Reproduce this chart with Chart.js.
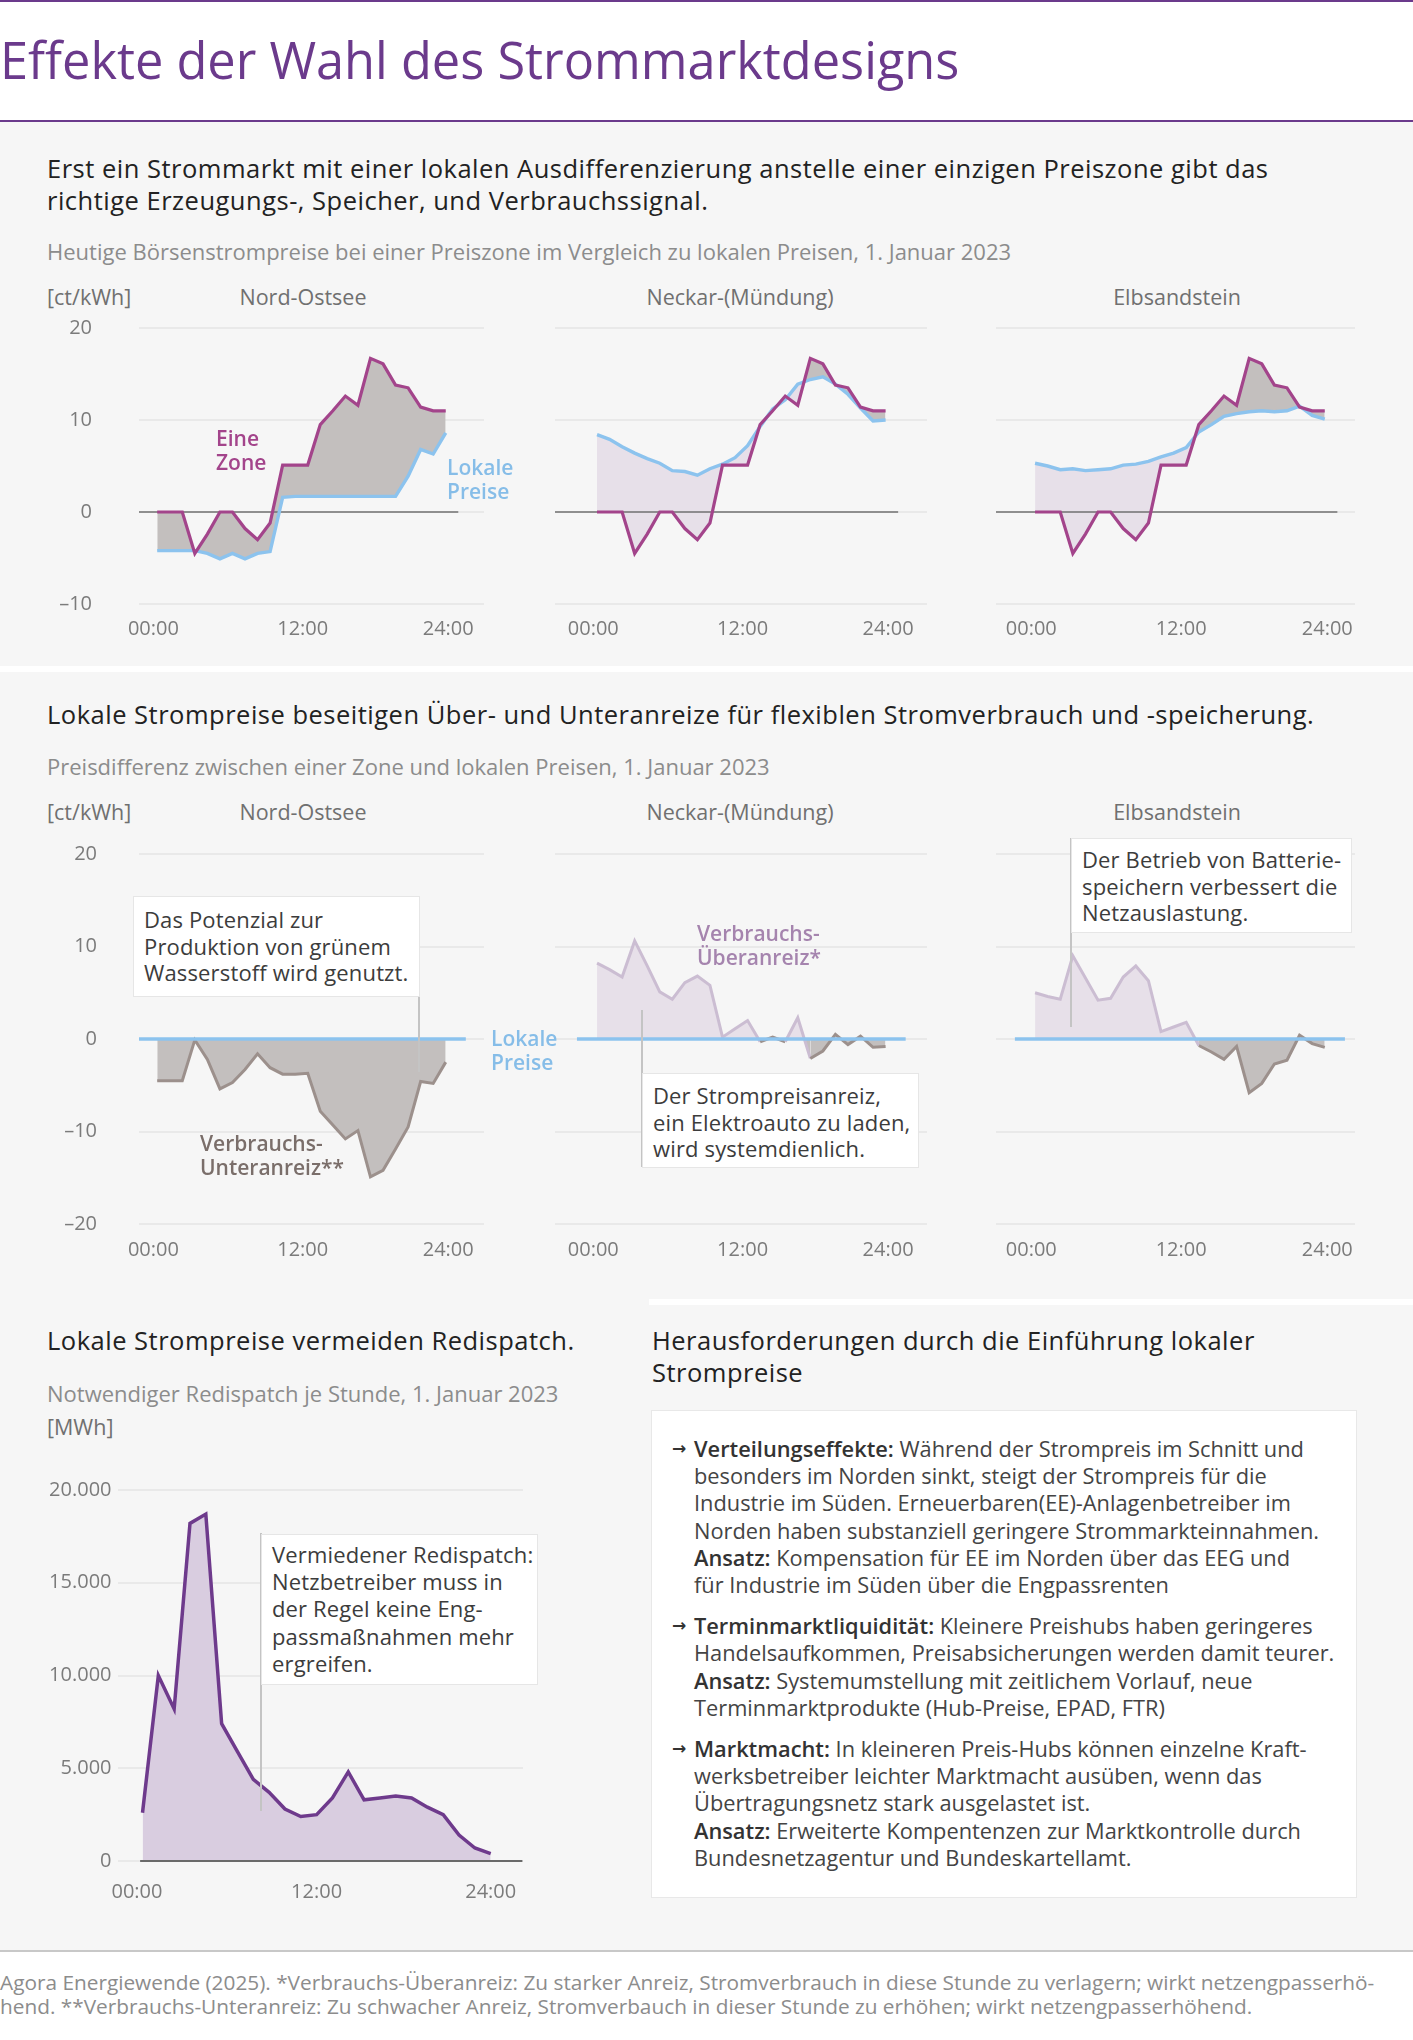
<!DOCTYPE html>
<html lang="de">
<head>
<meta charset="utf-8">
<title>Effekte der Wahl des Strommarktdesigns</title>
<script src="https://cdn.jsdelivr.net/npm/chart.js@4.4.1/dist/chart.umd.min.js"></script>
<style>
  body { margin: 0; width: 1413px; height: 2040px; position: relative; background: #fff;
         font-family: 'Open Sans', sans-serif; overflow: hidden; }
  .a { position: absolute; white-space: nowrap; }
  .bg { position: absolute; background: #f6f6f6; }
  .white { position: absolute; background: #fff; }
  .head { font-size: 25.5px; letter-spacing: 0.5px; line-height: 32px; color: #222; }
  .sub { font-size: 22px; line-height: 28px; color: #8c8c8c; }
  .panel { font-size: 21.5px; line-height: 28px; color: #707070; }
  .note { background: #fff; border: 1px solid #e6e6e6; box-sizing: border-box;
          font-size: 22px; letter-spacing: 0.15px; line-height: 26.7px; color: #3c3c3c; padding-left: 10px; }
  .stem { position: absolute; width: 2px; background: #c4c4c4; }
  .lbl { font-size: 21px; line-height: 24px; font-weight: 600; }
  canvas { position: absolute; }
  .bul { font-size: 21.8px; line-height: 27.2px; color: #444; position: relative; padding-left: 42px; margin-bottom: 14px; }
  .bul b { font-weight: 600; color: #333; }
  .bul .arr { position: absolute; left: 20px; top: 0; font-family: 'DejaVu Sans', sans-serif; font-weight: 700;
              font-size: 17px; color: #333; }
</style>
</head>
<body>

<!-- Hintergrund -->
<div class="a" style="left:0;top:0;width:1413px;height:2px;background:#6b3a8c"></div>
<div class="a" style="left:0;top:120px;width:1413px;height:2px;background:#6b3a8c"></div>
<div class="bg" style="left:0;top:122px;width:1413px;height:1828px"></div>
<div class="white" style="left:0;top:666px;width:1413px;height:6px"></div>
<div class="white" style="left:649px;top:1299px;width:764px;height:6px"></div>
<div class="a" style="left:0;top:1950px;width:1413px;height:2px;background:#c8c8c8"></div>

<div class="a" style="left:0;top:28px;font-size:50.5px;line-height:64px;color:#6b3a8c">Effekte der Wahl des Strommarktdesigns</div>

<!-- Abschnitt 1 -->
<div class="a head" style="left:47px;top:152px">Erst ein Strommarkt mit einer lokalen Ausdifferenzierung anstelle einer einzigen Preiszone gibt das<br>richtige Erzeugungs-, Speicher, und Verbrauchssignal.</div>
<div class="a sub" style="left:47px;top:237px">Heutige Börsenstrompreise bei einer Preiszone im Vergleich zu lokalen Preisen, 1. Januar 2023</div>
<div class="a panel" style="left:47px;top:283px">[ct/kWh]</div>
<div class="a panel" style="left:303px;top:283px;transform:translateX(-50%)">Nord-Ostsee</div>
<div class="a panel" style="left:740px;top:283px;transform:translateX(-50%)">Neckar-(Mündung)</div>
<div class="a panel" style="left:1177px;top:283px;transform:translateX(-50%)">Elbsandstein</div>

<canvas id="p1" width="444" height="336" style="left:40px;top:318px"></canvas>
<canvas id="p2" width="372" height="336" style="left:555px;top:318px"></canvas>
<canvas id="p3" width="359" height="336" style="left:996px;top:318px"></canvas>

<div class="a lbl" style="left:216px;top:426px;color:#a3448b">Eine<br>Zone</div>
<div class="a lbl" style="left:447px;top:455px;color:#86bde8">Lokale<br>Preise</div>

<!-- Abschnitt 2 -->
<div class="a head" style="left:47px;top:698px">Lokale Strompreise beseitigen Über- und Unteranreize für flexiblen Stromverbrauch und -speicherung.</div>
<div class="a sub" style="left:47px;top:752px">Preisdifferenz zwischen einer Zone und lokalen Preisen, 1. Januar 2023</div>
<div class="a panel" style="left:47px;top:798px">[ct/kWh]</div>
<div class="a panel" style="left:303px;top:798px;transform:translateX(-50%)">Nord-Ostsee</div>
<div class="a panel" style="left:740px;top:798px;transform:translateX(-50%)">Neckar-(Mündung)</div>
<div class="a panel" style="left:1177px;top:798px;transform:translateX(-50%)">Elbsandstein</div>

<canvas id="d1" width="444" height="430" style="left:40px;top:844px"></canvas>
<canvas id="d2" width="372" height="430" style="left:555px;top:844px"></canvas>
<canvas id="d3" width="359" height="430" style="left:996px;top:844px"></canvas>

<div class="a lbl" style="left:200px;top:1131px;color:#7a6e6a">Verbrauchs-<br>Unteranreiz**</div>
<div class="a lbl" style="left:697px;top:921px;color:#a584ae">Verbrauchs-<br>Überanreiz*</div>
<div class="a lbl" style="left:491px;top:1026px;color:#86bde8">Lokale<br>Preise</div>

<div class="stem" style="left:418px;top:896px;height:176px"></div>
<div class="a note" style="left:133px;top:896px;width:287px;height:101px;padding-top:9px">Das Potenzial zur<br>Produktion von grünem<br>Wasserstoff wird genutzt.</div>
<div class="stem" style="left:641px;top:1010px;height:157px"></div>
<div class="a note" style="left:642px;top:1073px;width:277px;height:95px;padding-top:8px">Der Strompreisanreiz,<br>ein Elektroauto zu laden,<br>wird systemdienlich.</div>
<div class="stem" style="left:1070px;top:838px;height:189px"></div>
<div class="a note" style="left:1071px;top:838px;width:281px;height:95px;padding-top:7px">Der Betrieb von Batterie-<br>speichern verbessert die<br>Netzauslastung.</div>

<!-- Abschnitt 3 -->
<div class="a head" style="left:47px;top:1324px">Lokale Strompreise vermeiden Redispatch.</div>
<div class="a sub" style="left:47px;top:1379px">Notwendiger Redispatch je Stunde, 1. Januar 2023</div>
<div class="a panel" style="left:47px;top:1413px">[MWh]</div>
<canvas id="r1" width="503" height="431" style="left:20px;top:1480px"></canvas>
<div class="stem" style="left:260px;top:1533px;height:278px"></div>
<div class="a note" style="left:261px;top:1534px;width:277px;height:151px;padding-top:6px;line-height:27.2px">Vermiedener Redispatch:<br>Netzbetreiber muss in<br>der Regel keine Eng-<br>passmaßnahmen mehr<br>ergreifen.</div>

<div class="a head" style="left:652px;top:1324px">Herausforderungen durch die Einführung lokaler<br>Strompreise</div>
<div class="a" style="left:651px;top:1410px;width:706px;height:488px;background:#fff;border:1px solid #e8e8e8;box-sizing:border-box;padding-top:24px;white-space:nowrap">
  <div class="bul"><span class="arr">→</span><b>Verteilungseffekte:</b> Während der Strompreis im Schnitt und<br>besonders im Norden sinkt, steigt der Strompreis für die<br>Industrie im Süden. Erneuerbaren(EE)-Anlagenbetreiber im<br>Norden haben substanziell geringere Strommarkteinnahmen.<br><b>Ansatz:</b> Kompensation für EE im Norden über das EEG und<br>für Industrie im Süden über die Engpassrenten</div>
  <div class="bul"><span class="arr">→</span><b>Terminmarktliquidität:</b> Kleinere Preishubs haben geringeres<br>Handelsaufkommen, Preisabsicherungen werden damit teurer.<br><b>Ansatz:</b> Systemumstellung mit zeitlichem Vorlauf, neue<br>Terminmarktprodukte (Hub-Preise, EPAD, FTR)</div>
  <div class="bul"><span class="arr">→</span><b>Marktmacht:</b> In kleineren Preis-Hubs können einzelne Kraft-<br>werksbetreiber leichter Marktmacht ausüben, wenn das<br>Übertragungsnetz stark ausgelastet ist.<br><b>Ansatz:</b> Erweiterte Kompentenzen zur Marktkontrolle durch<br>Bundesnetzagentur und Bundeskartellamt.</div>
</div>

<div class="a" style="left:0;top:1970px;font-size:20.8px;line-height:24px;color:#8c8c8c">Agora Energiewende (2025). *Verbrauchs-Überanreiz: Zu starker Anreiz, Stromverbrauch in diese Stunde zu verlagern; wirkt netzengpasserhö-<br>hend. **Verbrauchs-Unteranreiz: Zu schwacher Anreiz, Stromverbauch in dieser Stunde zu erhöhen; wirkt netzengpasserhöhend.</div>

<script>
// Stunden und Achsenbeschriftung
const hours = [0, 1, 2, 3, 4, 5, 6, 7, 8, 9, 10, 11, 12, 13, 14, 15, 16, 17, 18, 19, 20, 21, 22, 23];
const hourTicks = [-0.3, 11.6, 23.2];
const hourLabels = ["00:00", "12:00", "24:00"];

// Preise [ct/kWh]
const eineZone = [0, 0, 0, -4.5, -2.4, 0, 0, -1.8, -3.0, -1.2, 5.1, 5.1, 5.1, 9.5, 11.0, 12.6, 11.6, 16.7, 16.1, 13.8, 13.5, 11.4, 11.0, 11.0];
const lokalNordOstsee = [-4.2, -4.2, -4.2, -4.2, -4.5, -5.1, -4.5, -5.1, -4.5, -4.3, 1.6, 1.7, 1.7, 1.7, 1.7, 1.7, 1.7, 1.7, 1.7, 1.7, 3.9, 6.8, 6.3, 8.6];
const lokalNeckar = [8.4, 7.9, 7.1, 6.4, 5.8, 5.3, 4.5, 4.4, 4.0, 4.7, 5.2, 5.9, 7.2, 9.3, 11.2, 12.2, 13.9, 14.4, 14.7, 13.9, 12.8, 11.3, 9.9, 10.0];
const lokalElbsandstein = [5.3, 5.0, 4.6, 4.7, 4.5, 4.6, 4.7, 5.1, 5.2, 5.5, 6.0, 6.4, 7.0, 8.7, 9.5, 10.4, 10.7, 10.9, 11.0, 10.9, 11.0, 11.5, 10.5, 10.1];

// Preisdifferenz lokal minus eine Zone [ct/kWh]
const diffNordOstsee = [-4.5, -4.5, -4.5, -0.1, -2.2, -5.4, -4.7, -3.3, -1.6, -3.1, -3.8, -3.8, -3.7, -7.8, -9.3, -10.8, -9.9, -14.9, -14.2, -11.9, -9.5, -4.6, -4.8, -2.5];
const diffNeckar = [8.2, 7.5, 6.7, 10.6, 7.9, 5.1, 4.3, 6.1, 6.8, 5.8, 0.2, 1.1, 2.0, -0.3, 0.2, -0.3, 2.3, -2.1, -1.3, 0.5, -0.6, 0.3, -0.9, -0.8];
const diffElbsandstein = [5.0, 4.6, 4.3, 9.0, 6.6, 4.2, 4.4, 6.7, 7.9, 6.3, 0.8, 1.3, 1.8, -0.7, -1.4, -2.2, -0.8, -5.8, -4.8, -2.7, -2.3, 0.4, -0.5, -0.9];
const refHours = [-1.6, 24.6];
const refLokal = [0, 0];

// Redispatch [MWh]
const redispatchHours = [0, 1, 2, 3, 4, 5, 6, 7, 8, 9, 10, 11, 12, 13, 14, 15, 16, 17, 18, 19, 20, 21, 22];
const redispatch = [2600, 10000, 8200, 18200, 18700, 7400, 5900, 4400, 3700, 2800, 2400, 2500, 3400, 4800, 3300, 3400, 3500, 3400, 2900, 2500, 1400, 700, 400];
const redispatchTicks = [-0.35, 11, 22];

const ZONE = "#a3448b";
const BLUE = "#8cc3ee";
const GREY_FILL = "#c3bfbe";
const LILAC_FILL = "#e7e0e9";
const UP_LINE = "#cbbdd2";
const DOWN_LINE = "#9c908c";

Chart.defaults.font.family = "'Open Sans', sans-serif";
Chart.defaults.font.size = 20;
Chart.defaults.color = "#7b7b7b";

const pts = (xs, ys) => xs.map((x, i) => ({ x: x, y: ys[i] }));
const dash = (v) => (v < 0 ? "\u2013" + Math.abs(v) : String(v));
const thousands = (v) => String(v).replace(/\B(?=(\d{3})+(?!\d))/g, ".");

const zeroLine = {
  id: "zeroLine",
  draw(chart, o) {
    const { ctx, chartArea, scales } = chart;
    const y = scales.y.getPixelForValue(0);
    const x0 = o.from !== undefined ? scales.x.getPixelForValue(o.from) : chartArea.left;
    const x1 = scales.x.getPixelForValue(o.to);
    ctx.save();
    ctx.strokeStyle = o.color;
    ctx.lineWidth = o.width;
    ctx.beginPath();
    ctx.moveTo(x0, y);
    ctx.lineTo(x1, y);
    ctx.stroke();
    ctx.restore();
  },
  beforeDatasetsDraw(chart, args, o) {
    if (o.to !== undefined && !o.after) this.draw(chart, o);
  },
  afterDatasetsDraw(chart, args, o) {
    if (o.to !== undefined && o.after) this.draw(chart, o);
  },
};

function makeChart(id, datasets, o) {
  return new Chart(document.getElementById(id), {
    type: "line",
    data: { datasets: datasets },
    options: {
      responsive: false,
      animation: false,
      layout: { padding: { top: 10, left: 0, right: 0, bottom: 0 } },
      elements: { point: { radius: 0 }, line: { tension: 0 } },
      plugins: {
        legend: { display: false },
        tooltip: { enabled: false },
        filler: { drawTime: "beforeDatasetsDraw" },
        zeroLine: o.zero || {},
      },
      scales: {
        x: {
          type: "linear",
          min: o.xMin,
          max: o.xMax,
          grid: { display: false },
          border: { display: false },
          afterBuildTicks: (s) => {
            s.ticks = o.xTicks.map((v) => ({ value: v }));
          },
          afterFit: (s) => {
            s.height = 50;
            s.paddingLeft = 0;
            s.paddingRight = 0;
          },
          ticks: {
            autoSkip: false,
            maxRotation: 0,
            padding: o.xPad,
            callback: (v, i) => o.xLabels[i],
          },
        },
        y: {
          min: o.yMin,
          max: o.yMax,
          border: { display: false },
          grid: { color: "#e9e9e9", lineWidth: 2, drawTicks: false },
          afterFit: (s) => {
            s.width = o.yWidth;
            s.paddingTop = 0;
            s.paddingBottom = 0;
          },
          ticks: {
            display: o.yWidth > 0,
            stepSize: o.yStep,
            padding: o.yPad,
            callback: o.yFormat,
          },
        },
      },
    },
    plugins: [zeroLine],
  });
}

function priceSets(lokal) {
  return [
    {
      data: pts(hours, eineZone),
      borderColor: ZONE,
      borderWidth: 3.2,
      fill: { target: 1, above: GREY_FILL, below: LILAC_FILL },
    },
    { data: pts(hours, lokal), borderColor: BLUE, borderWidth: 3.4, fill: false },
  ];
}

function diffSets(diff) {
  return [
    { data: pts(refHours, refLokal), borderColor: BLUE, borderWidth: 3.5, fill: false },
    {
      data: pts(hours, diff),
      borderColor: UP_LINE,
      borderWidth: 3,
      fill: { target: { value: 0 }, above: LILAC_FILL, below: GREY_FILL },
      segment: {
        borderColor: (c) => (c.p0.parsed.y + c.p1.parsed.y >= 0 ? UP_LINE : DOWN_LINE),
      },
    },
  ];
}

const priceAxis = { yMin: -10, yMax: 20, yStep: 10, yFormat: dash, xTicks: hourTicks, xLabels: hourLabels, xPad: 5 };
const zeroGrey = { to: 24, color: "#707070", width: 1.5 };

makeChart("p1", priceSets(lokalNordOstsee), { ...priceAxis, xMin: -1.45, xMax: 26.05, yWidth: 99, yPad: 47, zero: zeroGrey });
makeChart("p2", priceSets(lokalNeckar), { ...priceAxis, xMin: -3.35, xMax: 26.3, yWidth: 0, yPad: 0, zero: zeroGrey });
makeChart("p3", priceSets(lokalElbsandstein), { ...priceAxis, xMin: -3.1, xMax: 25.4, yWidth: 0, yPad: 0, zero: zeroGrey });

const diffAxis = { yMin: -20, yMax: 20, yStep: 10, yFormat: dash, xTicks: hourTicks, xLabels: hourLabels, xPad: 6 };
makeChart("d1", diffSets(diffNordOstsee), { ...diffAxis, xMin: -1.45, xMax: 26.05, yWidth: 99, yPad: 42 });
makeChart("d2", diffSets(diffNeckar), { ...diffAxis, xMin: -3.35, xMax: 26.3, yWidth: 0, yPad: 0 });
makeChart("d3", diffSets(diffElbsandstein), { ...diffAxis, xMin: -3.1, xMax: 25.4, yWidth: 0, yPad: 0 });

makeChart(
  "r1",
  [
    {
      data: pts(redispatchHours, redispatch),
      borderColor: "#6e3a8c",
      borderWidth: 3.5,
      fill: { target: "origin", above: "#d9cde0" },
    },
  ],
  {
    yMin: 0, yMax: 20000, yStep: 5000, yFormat: thousands,
    xMin: -1.58, xMax: 24.04, xTicks: redispatchTicks, xLabels: hourLabels, xPad: 11,
    yWidth: 97.5, yPad: 6,
    zero: { from: -0.15, to: 24, color: "#6a6a6a", width: 2, after: true },
  }
);
</script>
</body>
</html>
